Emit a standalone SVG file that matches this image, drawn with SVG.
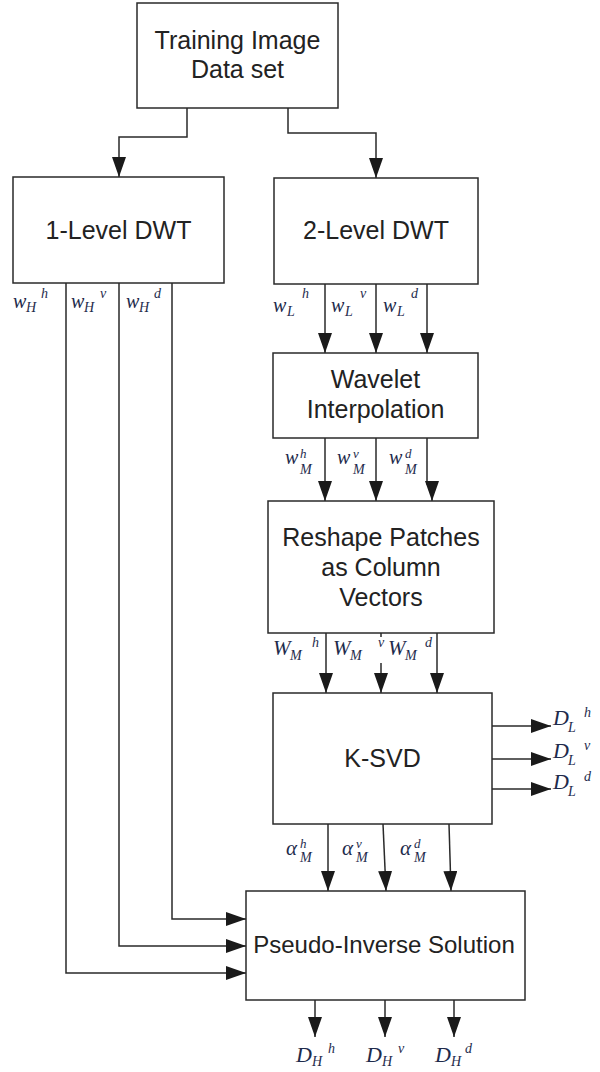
<svg xmlns="http://www.w3.org/2000/svg" width="600" height="1072" viewBox="0 0 600 1072">
<style>
.box{fill:#fff;stroke:#2a2a2a;stroke-width:1.5}
.t{font-family:"Liberation Sans",Arial,sans-serif;font-size:25px;fill:#222;text-anchor:middle}
.c{fill:none;stroke:#2a2a2a;stroke-width:1.5;marker-end:url(#ah)}
.m{font-family:"Liberation Serif","Times New Roman",serif;font-style:italic;font-size:20px;fill:#1e2b4c}
.W{font-family:"Liberation Serif","Times New Roman",serif;font-style:italic;font-size:21px;fill:#1e2b4c}
.D{font-family:"Liberation Serif","Times New Roman",serif;font-style:italic;font-size:22px;fill:#1e2b4c}
.s{font-family:"Liberation Serif","Times New Roman",serif;font-style:italic;font-size:14px;fill:#1e2b4c}
.p{font-family:"Liberation Serif","Times New Roman",serif;font-style:italic;font-size:14px;fill:#1e2b4c}
.q{font-family:"Liberation Serif","Times New Roman",serif;font-style:italic;font-size:13px;fill:#1e2b4c}
</style>
<defs>
<marker id="ah" markerUnits="userSpaceOnUse" markerWidth="20" markerHeight="14" refX="20" refY="7" orient="auto">
<path d="M0,0 L20,7 L0,14 Z" fill="#1a1a1a"/>
</marker>
</defs>
<rect width="600" height="1072" fill="#fff"/>
<g id="connectors">
<path class="c" d="M187,108 V137 H119 V177"/>
<path class="c" d="M288,108 V133 H376 V178"/>
<path class="c" d="M325,284 V353"/>
<path class="c" d="M376,284 V353"/>
<path class="c" d="M427,284 V353"/>
<path class="c" d="M325,438 V501"/>
<path class="c" d="M376,438 V501"/>
<path class="c" d="M427,438 V484 H432 V501"/>
<path class="c" d="M326,633 V693"/>
<path class="c" d="M381,633 V637 M381,663 V693"/>
<path class="c" d="M437,633 V693"/>
<path class="c" d="M328,824 L328,891"/>
<path class="c" d="M383,824 L386,891"/>
<path class="c" d="M449,824 L451,891"/>
<path class="c" d="M492,726 H551"/>
<path class="c" d="M492,759 H551"/>
<path class="c" d="M492,789 H551"/>
<path class="c" d="M66,283 V973 H246"/>
<path class="c" d="M119,283 V946 H246"/>
<path class="c" d="M172,283 V919 H246"/>
<path class="c" d="M315,1000 V1037"/>
<path class="c" d="M385,1000 V1037"/>
<path class="c" d="M454,1000 V1037"/>
</g>
<g id="top">
<rect class="box" x="137" y="3" width="201" height="105"/>
<text class="t" x="237.5" y="49">Training Image</text>
<text class="t" x="237.5" y="78">Data set</text>
</g>
<g id="dwt1">
<rect class="box" x="13" y="177" width="211" height="106"/>
<text class="t" x="118.5" y="239">1-Level DWT</text>
</g>
<g id="dwt2">
<rect class="box" x="274" y="178" width="204" height="106"/>
<text class="t" x="376" y="239">2-Level DWT</text>
</g>
<g id="wavelet">
<rect class="box" x="273" y="353" width="205" height="85"/>
<text class="t" x="375.5" y="388">Wavelet</text>
<text class="t" x="375.5" y="418">Interpolation</text>
</g>
<g id="reshape">
<rect class="box" x="268" y="501" width="226" height="132"/>
<text class="t" x="381" y="546">Reshape Patches</text>
<text class="t" x="381" y="576">as Column</text>
<text class="t" x="381" y="606">Vectors</text>
</g>
<g id="ksvd">
<rect class="box" x="273" y="693" width="219" height="131"/>
<text class="t" x="382.5" y="767">K-SVD</text>
</g>
<g id="pinv">
<rect class="box" x="246" y="891" width="279" height="109"/>
<text class="t" x="384" y="953" style="font-size:24px">Pseudo-Inverse Solution</text>
</g>
<g id="labels">
<text class="m" x="13" y="308">w</text><text class="s" x="26" y="312">H</text><text class="p" x="41" y="298">h</text>
<text class="m" x="71" y="308">w</text><text class="s" x="84" y="312">H</text><text class="p" x="100" y="298">v</text>
<text class="m" x="126" y="308">w</text><text class="s" x="139" y="312">H</text><text class="p" x="154" y="298">d</text>

<text class="m" x="273" y="312">w</text><text class="s" x="287" y="316">L</text><text class="p" x="302" y="298">h</text>
<text class="m" x="331" y="312">w</text><text class="s" x="345" y="316">L</text><text class="p" x="360" y="298">v</text>
<text class="m" x="383" y="312">w</text><text class="s" x="397" y="316">L</text><text class="p" x="411" y="298">d</text>

<text class="m" x="285" y="464">w</text><text class="q" x="300" y="458">h</text><text class="s" x="300" y="474">M</text>
<text class="m" x="337" y="464">w</text><text class="q" x="353" y="458">v</text><text class="s" x="353" y="474">M</text>
<text class="m" x="389" y="464">w</text><text class="q" x="405" y="458">d</text><text class="s" x="405" y="474">M</text>

<text class="W" x="273" y="655">W</text><text class="s" x="290" y="660">M</text><text class="p" x="312" y="647">h</text>
<text class="W" x="333" y="655">W</text><text class="s" x="350" y="660">M</text><text class="p" x="378" y="647">v</text>
<text class="W" x="388" y="655">W</text><text class="s" x="405" y="660">M</text><text class="p" x="425" y="647">d</text>

<text class="D" x="286" y="855" style="font-size:21px">α</text><text class="q" x="300" y="848">h</text><text class="s" x="300" y="862">M</text>
<text class="D" x="342" y="855" style="font-size:21px">α</text><text class="q" x="356" y="848">v</text><text class="s" x="356" y="862">M</text>
<text class="D" x="400" y="855" style="font-size:21px">α</text><text class="q" x="414" y="848">d</text><text class="s" x="414" y="862">M</text>

<text class="D" x="553" y="725">D</text><text class="s" x="568" y="732">L</text><text class="p" x="584" y="717">h</text>
<text class="D" x="553" y="758">D</text><text class="s" x="568" y="765">L</text><text class="p" x="584" y="750">v</text>
<text class="D" x="553" y="789">D</text><text class="s" x="568" y="796">L</text><text class="p" x="584" y="781">d</text>

<text class="D" x="296" y="1062">D</text><text class="s" x="312" y="1066">H</text><text class="p" x="328" y="1053">h</text>
<text class="D" x="366" y="1062">D</text><text class="s" x="382" y="1066">H</text><text class="p" x="398" y="1053">v</text>
<text class="D" x="435" y="1062">D</text><text class="s" x="451" y="1066">H</text><text class="p" x="465" y="1053">d</text>
</g>
</svg>
